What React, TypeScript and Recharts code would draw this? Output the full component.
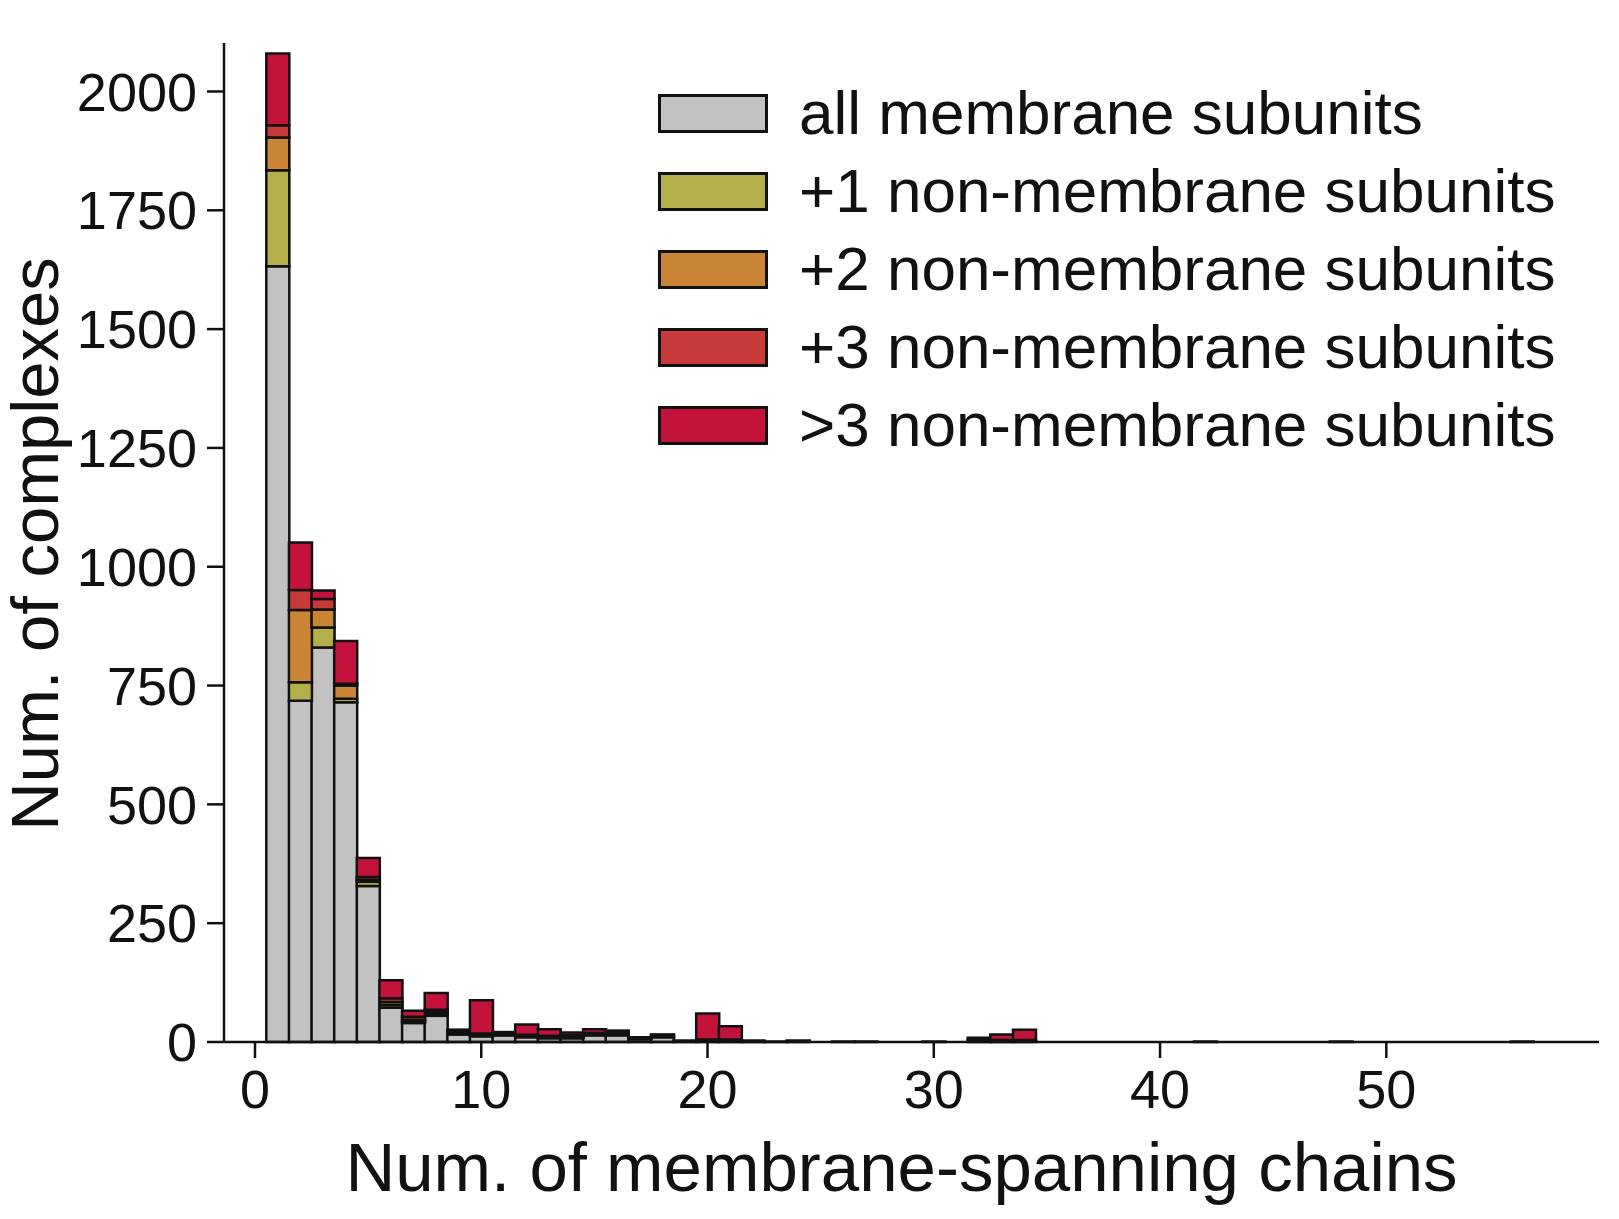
import React from "react";
import { BarChart, Bar, XAxis, YAxis, Legend, Label } from "recharts";

// one bin per number of membrane-spanning chains
const bins = [
  1, 2, 3, 4, 5, 6, 7, 8, 9, 10, 11, 12, 13, 14, 15, 16, 17, 18, 19, 20,
  21, 22, 23, 24, 25, 26, 27, 28, 29, 30, 31, 32, 33, 34, 35, 36, 37, 38, 39, 40,
  41, 42, 43, 44, 45, 46, 47, 48, 49, 50, 51, 52, 53, 54, 55, 56, 57,
];

const allMembrane = [
  1632, 718, 830, 715, 328, 72, 40, 55, 16, 12, 14, 10, 8, 8, 14, 14, 6, 10, 2, 3,
  3, 2, 1, 2, 0, 1, 1, 0, 0, 1, 0, 2, 2, 2, 0, 0, 0, 0, 0, 0,
  0, 1, 0, 0, 0, 0, 0, 1, 0, 0, 0, 0, 0, 0, 0, 1, 0,
];
const plus1 = [
  202, 39, 42, 7, 9, 6, 3, 4, 2, 1, 1, 1, 1, 1, 1, 1, 0, 0, 0, 0,
  0, 0, 0, 0, 0, 0, 0, 0, 0, 0, 0, 0, 0, 0, 0, 0, 0, 0, 0, 0,
  0, 0, 0, 0, 0, 0, 0, 0, 0, 0, 0, 0, 0, 0, 0, 0, 0,
];
const plus2 = [
  69, 152, 38, 28, 4, 6, 4, 4, 2, 2, 1, 2, 2, 2, 2, 2, 1, 1, 0, 0,
  0, 0, 0, 0, 0, 0, 0, 0, 0, 0, 0, 0, 0, 0, 0, 0, 0, 0, 0, 0,
  0, 0, 0, 0, 0, 0, 0, 0, 0, 0, 0, 0, 0, 0, 0, 0, 0,
];
const plus3 = [
  26, 42, 22, 4, 6, 8, 6, 5, 2, 3, 1, 2, 2, 3, 2, 2, 1, 2, 0, 2,
  2, 0, 0, 0, 0, 0, 0, 0, 0, 0, 0, 2, 2, 2, 0, 0, 0, 0, 0, 0,
  0, 0, 0, 0, 0, 0, 0, 0, 0, 0, 0, 0, 0, 0, 0, 0, 0,
];
const moreThan3 = [
  151, 100, 18, 90, 40, 38, 13, 35, 4, 70, 4, 22, 14, 6, 8, 5, 2, 3, 1, 55,
  28, 1, 0, 1, 0, 0, 0, 0, 0, 0, 0, 5, 12, 22, 0, 0, 0, 0, 0, 0,
  0, 0, 0, 0, 0, 0, 0, 0, 0, 0, 0, 0, 0, 0, 0, 0, 0,
];

const xTicks = [0, 10, 20, 30, 40, 50];
const yTicks = [0, 250, 500, 750, 1000, 1250, 1500, 1750, 2000];

const series = [
  { key: "all", name: "all membrane subunits", color: "#c2c2c2" },
  { key: "p1", name: "+1 non-membrane subunits", color: "#b3b04c" },
  { key: "p2", name: "+2 non-membrane subunits", color: "#c98436" },
  { key: "p3", name: "+3 non-membrane subunits", color: "#c83a3a" },
  { key: "gt3", name: ">3 non-membrane subunits", color: "#c3133a" },
];

const data = bins.map((n, i) => ({
  n,
  all: allMembrane[i],
  p1: plus1[i],
  p2: plus2[i],
  p3: plus3[i],
  gt3: moreThan3[i],
}));

const FONT = "'Liberation Sans', Arial, sans-serif";

const LegendBox = (props: any) => {
  // keep the series order, not the alphabetical one
  const items = [...(props.payload || [])].sort(
    (a: any, b: any) =>
      series.findIndex((s) => s.key === a.dataKey) -
      series.findIndex((s) => s.key === b.dataKey)
  );
  return (
    <div style={{ fontFamily: FONT }}>
      {items.map((it: any, i: number) => (
        <div
          key={i}
          style={{ display: "flex", alignItems: "center", height: 78 }}
        >
          <div
            style={{
              width: 110,
              height: 39,
              background: it.color,
              border: "3px solid #111",
              boxSizing: "border-box",
              marginRight: 31,
            }}
          />
          <span style={{ fontSize: 62, color: "#111", lineHeight: "62px" }}>
            {it.value}
          </span>
        </div>
      ))}
    </div>
  );
};

const App = () => {
  return (
    <BarChart
      width={1611}
      height={1211}
      data={data}
      margin={{ top: 35, right: 20, left: 0, bottom: 0 }}
      barCategoryGap={0}
      barGap={0}
    >
      <XAxis
        dataKey="n"
        type="number"
        domain={[-1.37, 59.4]}
        ticks={xTicks}
        allowDataOverflow
        height={177}
        tickSize={16}
        tickMargin={12}
        stroke="#111"
        strokeWidth={2.5}
        tick={{ fill: "#111", fontSize: 54, fontFamily: FONT }}
      >
        <Label
          value="Num. of membrane-spanning chains"
          position="insideBottom"
          offset={28}
          dx={-10}
          style={{ fontSize: 69, fontFamily: FONT, fill: "#111" }}
        />
      </XAxis>
      <YAxis
        type="number"
        domain={[0, 2102]}
        ticks={yTicks}
        width={216}
        tickSize={17}
        tickMargin={10}
        stroke="#111"
        strokeWidth={2.5}
        tick={{ fill: "#111", fontSize: 54, fontFamily: FONT }}
      >
        <Label
          content={() => (
            <text
              x={50}
              y={536}
              transform="rotate(-90, 50, 536)"
              textAnchor="middle"
              fontSize={67}
              fontFamily={FONT}
              fill="#111"
            >
              Num. of complexes
            </text>
          )}
        />
      </YAxis>
      <Legend
        content={<LegendBox />}
        layout="vertical"
        verticalAlign="middle"
        align="center"
        wrapperStyle={{ top: 66, left: 650, width: 900 }}
      />
      {series.map((s) => (
        <Bar
          key={s.key}
          dataKey={s.key}
          name={s.name}
          stackId="a"
          fill={s.color}
          stroke="#111"
          strokeWidth={2.5}
          isAnimationActive={false}
        />
      ))}
    </BarChart>
  );
};

export default App;
